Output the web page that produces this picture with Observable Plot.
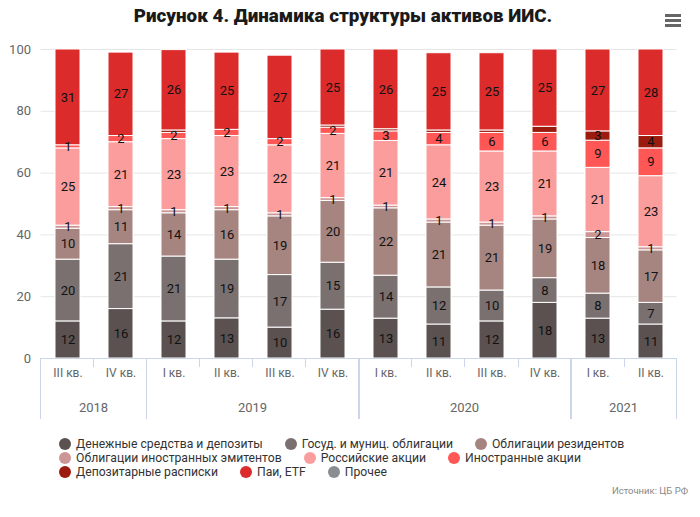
<!DOCTYPE html>
<html>
<head>
<meta charset="utf-8">
<script src="https://cdn.jsdelivr.net/npm/d3@7"></script>
<script src="https://cdn.jsdelivr.net/npm/@observablehq/plot@0.6"></script>
<style>
  html, body { margin: 0; padding: 0; background: #fff; }
  #wrap { position: relative; width: 700px; height: 517px; font-family: Roboto, "Noto Sans", sans-serif; overflow: hidden; }
  #title { position: absolute; top: 5px; left: 0; width: 686px; text-align: center; font-weight: 900; font-size: 18.8px; color: #1a1a1a; }
  #menu { position: absolute; left: 665px; top: 14px; width: 16px; }
  #menu div { height: 2.5px; background: #666; margin-bottom: 2.5px; }
  #chart { position: absolute; left: 0; top: 0; }
  #legend { position: absolute; left: 59px; top: 437px; font-size: 12.2px; color: #333; }
  .lrow { display: flex; height: 14px; align-items: center; margin-bottom: 0px; }
  .item { display: flex; align-items: center; margin-right: 22px; white-space: nowrap; }
  .dot { width: 12px; height: 12px; border-radius: 50%; margin-right: 5px; }
  #source { position: absolute; right: 12px; top: 485px; font-size: 9.5px; color: #888; }
</style>
</head>
<body>
<div id="wrap">
  <div id="chart"></div>
  <div id="title">Рисунок 4. Динамика структуры активов ИИС.</div>
  <div id="menu"><div></div><div></div><div></div></div>
  <div id="legend"></div>
  <div id="source">Источник: ЦБ РФ</div>
</div>
<script>
// Categories
const quarters = ["III кв.","IV кв.","I кв.","II кв.","III кв.","IV кв.","I кв.","II кв.","III кв.","IV кв.","I кв.","II кв."];
const years    = ["2018","2018","2019","2019","2019","2019","2020","2020","2020","2020","2021","2021"];

// Series (bottom to top)
const seriesNames = [
  "Денежные средства и депозиты",
  "Госуд. и муниц. облигации",
  "Облигации резидентов",
  "Облигации иностранных эмитентов",
  "Российские акции",
  "Иностранные акции",
  "Депозитарные расписки",
  "Паи, ETF",
  "Прочее"
];
const seriesColors = ["#5b5150","#7a7070","#a68581","#cc9696","#fa9d9c","#ff5656","#9b1b0f","#dc2b2b","#8b8e91"];

const cash          = [12, 16, 12, 13, 10, 15.8, 12.9, 11, 12, 18, 12.9, 11];
const govBonds      = [20, 21, 21, 19, 17, 15.2, 13.9, 12, 10,  8,  8.1,  7];
const residentBonds = [10, 11, 14, 16, 19, 20,   21.8, 21, 21, 19, 18,   17];
const foreignBonds  = [ 1,  1,  1,  1,  1,  0.9,  0.9,  1,  1,  1,  1.9,  1];
const rusShares     = [25, 21, 23, 23, 22, 20.8, 20.9, 24, 23, 21, 20.8, 23];
const foreignShares = [ 1,  2,  2,  2,  2,  2,    3.1,  4,  6,  6,  8.8,  9];
const depositary    = [ 0,  0,  0.8, 0, 0,  0.7,  0.7,  0.8, 0.8, 2, 3,   4];
const etf           = [31, 27, 26, 25, 27, 24.6, 25.8, 25, 25, 25, 26.5, 28];
const other         = [ 0,  0,  0,  0,  0,  0,    0,    0,  0,  0,  0,    0];

const seriesValues = [cash, govBonds, residentBonds, foreignBonds, rusShares, foreignShares, depositary, etf, other];
const yTicks = [0, 20, 40, 60, 80, 100];

// Build tidy table
const keys = quarters.map((q, i) => years[i] + "|" + q + "|" + i);
const rows = [];
keys.forEach((k, i) => {
  let cum = 0, lastShown = -Infinity;
  seriesValues.forEach((vals, s) => {
    const v = vals[i];
    if (v > 0) {
      const mid = cum + v / 2;
      const label = Math.round(v);
      const show = label >= 1 && (mid - lastShown) >= 4.2;
      if (show) lastShown = mid;
      rows.push({key: k, series: seriesNames[s], value: v, label: show ? String(label) : ""});
    }
    cum += v;
  });
});

const chart = Plot.plot({
  width: 700,
  height: 430,
  marginTop: 49,
  marginLeft: 40.5,
  marginRight: 23.5,
  marginBottom: 72,
  style: {fontFamily: "Roboto, 'Noto Sans', sans-serif", background: "white", overflow: "visible"},
  x: {domain: keys, paddingInner: 0.53, paddingOuter: 0.265, axis: null},
  y: {domain: [0, 100], axis: null},
  color: {domain: seriesNames, range: seriesColors},
  marks: [
    Plot.gridY(yTicks, {stroke: "#e6e6e6", strokeOpacity: 1}),
    Plot.axisY(yTicks, {tickSize: 0, tickPadding: 10, fontSize: 13, color: "#666", label: null, anchor: "left"}),
    Plot.barY(rows, {x: "key", y: "value", z: "series", fill: "series", stroke: "white", strokeWidth: 1, order: seriesNames}),
    Plot.text(rows, Plot.stackY({x: "key", y: "value", z: "series", text: "label", order: seriesNames, fill: "#111", fontSize: 13})),
    Plot.axisX({tickSize: 0, tickPadding: 10, tickFormat: k => k.split("|")[1], fontSize: 12, color: "#666", label: null})
  ]
});
document.getElementById("chart").appendChild(chart);

// Two-level category axis decorations, placed through Plot's x scale
(function () {
  const sx = chart.scale("x");
  const band = d3.scaleBand().domain(sx.domain).range(sx.range)
    .paddingInner(sx.paddingInner ?? 0.53).paddingOuter(sx.paddingOuter ?? 0.265).align(sx.align ?? 0.5);
  const step = band.step(), bw = band.bandwidth();
  const y0 = chart.scale("y").apply(0);
  const left = k => band(k) - (step - bw) / 2;
  const right = k => band(k) + bw + (step - bw) / 2;
  const g = d3.select(chart).append("g");
  g.append("line").attr("x1", left(keys[0])).attr("x2", right(keys[keys.length - 1]))
    .attr("y1", y0 + 0.5).attr("y2", y0 + 0.5).attr("stroke", "#ccd6eb");
  keys.forEach((k, i) => {
    if (i > 0 && years[i] === years[i - 1]) {
      const px = Math.round(left(k)) + 0.5;
      g.append("line").attr("x1", px).attr("x2", px)
        .attr("y1", y0).attr("y2", y0 + 9).attr("stroke", "#ccd6eb");
    }
  });
  const bounds = [];
  Array.from(new Set(years)).forEach(yr => {
    const ks = keys.filter((k, i) => years[i] === yr);
    const a = left(ks[0]), b = right(ks[ks.length - 1]);
    bounds.push(a, b);
    g.append("text").attr("x", (a + b) / 2).attr("y", y0 + 54)
      .attr("text-anchor", "middle").attr("fill", "#666").attr("font-size", 13).text(yr);
  });
  Array.from(new Set(bounds.map(v => Math.round(v)))).forEach(bx => {
    g.append("line").attr("x1", bx + 0.5).attr("x2", bx + 0.5)
      .attr("y1", y0).attr("y2", y0 + 61).attr("stroke", "#ccd6eb");
  });
})();

// Legend
const legend = document.getElementById("legend");
for (let r = 0; r < seriesNames.length; r += 3) {
  const row = document.createElement("div");
  row.className = "lrow";
  seriesNames.slice(r, r + 3).forEach((name, j) => {
    const it = document.createElement("div");
    it.className = "item";
    const dot = document.createElement("div");
    dot.className = "dot";
    dot.style.background = seriesColors[r + j];
    const t = document.createElement("span");
    t.textContent = name;
    it.appendChild(dot); it.appendChild(t);
    row.appendChild(it);
  });
  legend.appendChild(row);
}
</script>
</body>
</html>
